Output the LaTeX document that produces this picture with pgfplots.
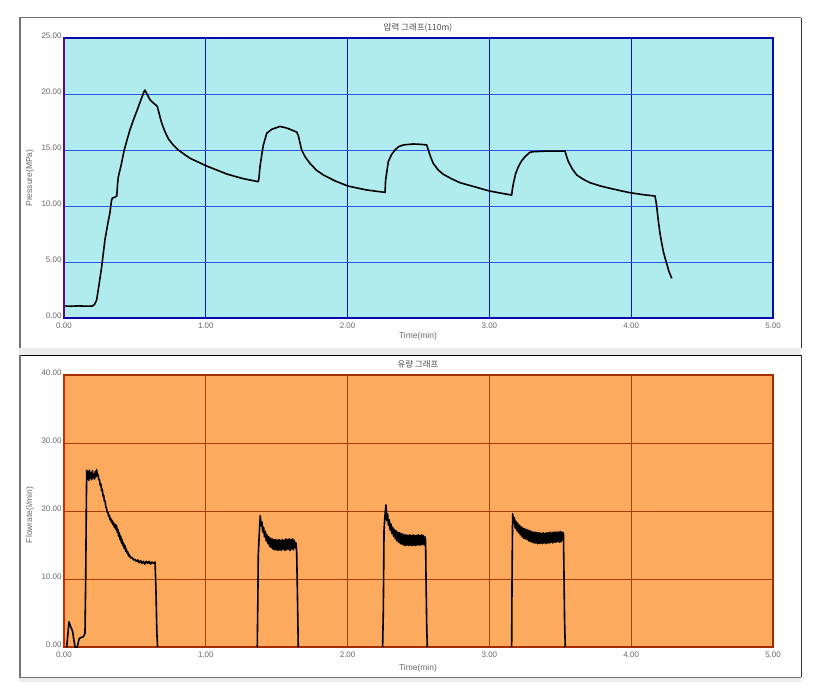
\documentclass[border=0pt]{standalone}
\usepackage{fontspec}
\setmainfont{Liberation Sans}
\newfontfamily\kr{Noto Sans CJK KR}
\usepackage{pgfplots}
\pgfplotsset{compat=1.18}

\definecolor{pbg}{RGB}{176,236,238}
\definecolor{pgridv}{RGB}{0,20,230}
\definecolor{pgridh}{RGB}{40,85,225}
\definecolor{pframe}{RGB}{10,10,170}
\definecolor{pleft}{RGB}{110,0,130}
\definecolor{fbg}{RGB}{252,171,94}
\definecolor{fgrid}{RGB}{170,60,10}
\definecolor{fframe}{RGB}{165,45,0}
\definecolor{fleft}{RGB}{205,40,0}
\definecolor{labgray}{RGB}{105,105,105}
\definecolor{panelgray}{RGB}{236,236,236}

\pgfplotsset{
  panel/.style={
    scale only axis, width=709bp,
    xmin=0, xmax=5, ymin=0,
    xtick={0,1,2,3,4,5},
    /pgf/number format/.cd, fixed, fixed zerofill, precision=2, assume math mode=true,
    /pgfplots/.cd,
    tick style={draw=none},
    ticklabel style={font=\fontsize{8}{9}\selectfont, text=labgray},
    yticklabel style={xshift=1bp, yshift=2bp},
    xticklabel style={yshift=-1bp},
    xmajorgrids, ymajorgrids,
    clip=false,
  },
  curve/.style={black, line width=1.6bp, line join=round},
}

\begin{document}
\begin{tikzpicture}
\begin{scope}[x=1bp,y=-1bp]
  \fill[white] (0,0) rectangle (828,692);
  % panel frames
  \fill[panelgray] (19,348) rectangle (801,355);
  \fill[panelgray] (19,677) rectangle (801,682);
  \draw[black!55, line width=1bp] (19,18) -- (801,18);
  \draw[black!55, line width=2.5bp] (20,18) -- (20,348);
  \draw[black!80, line width=0.8bp] (801,18) -- (801,348);
  \draw[black, line width=0.8bp] (19,355) -- (801,355);
  \draw[black!55, line width=2.5bp] (20,355) -- (20,677);
  \draw[black!80, line width=0.8bp] (801,355) -- (801,677);
  \draw[black!55, line width=0.8bp] (19,677) -- (801,677);
  % titles and labels
  \node[text=black!70, font=\kr\fontsize{8.5}{10}\selectfont] at (418,28) {압력 그래프(110m)};
  \node[text=black!70, font=\kr\fontsize{8.5}{10}\selectfont] at (418,364) {유량 그래프};
  \node[text=labgray, font=\fontsize{8.5}{10}\selectfont] at (418,336) {Time(min)};
  \node[text=labgray, font=\fontsize{8.5}{10}\selectfont] at (418,668) {Time(min)};
  \node[text=labgray, font=\fontsize{8.5}{10}\selectfont, rotate=90] at (30,178) {Pressure(MPa)};
  \node[text=labgray, font=\fontsize{8.5}{10}\selectfont, rotate=90] at (30,515) {Flowrate(l/min)};
\end{scope}

% pressure
\begin{axis}[panel,
  at={(64bp,-318bp)}, anchor=south west, height=280bp,
  ymax=25, ytick={0,5,10,15,20,25},
  axis background/.style={fill=pbg},
  x grid style={draw=pgridv, line width=1bp},
  y grid style={draw=pgridh, line width=0.9bp},
  axis line style={pframe, line width=1.6bp},
]
\addplot[curve] coordinates {
(0.01,1.07) (0.05,1.05) (0.10,1.08) (0.15,1.06) (0.20,1.07) (0.215,1.2) (0.23,1.6) (0.245,2.8)
(0.266,4.6) (0.289,7.0) (0.31,8.5) (0.324,9.4) (0.335,10.5) (0.341,10.7) (0.36,10.8) (0.372,10.9)
(0.378,12.0) (0.383,12.6) (0.402,13.6) (0.423,14.9) (0.44,15.7) (0.465,16.8) (0.49,17.7)
(0.517,18.6) (0.54,19.4) (0.564,20.2) (0.571,20.35) (0.585,20.0) (0.606,19.5) (0.63,19.2)
(0.658,18.9) (0.672,18.2) (0.689,17.4) (0.71,16.7) (0.736,16.0) (0.77,15.45) (0.806,15.0)
(0.85,14.6) (0.889,14.26) (0.95,13.9) (1.006,13.57) (1.08,13.2) (1.147,12.86) (1.21,12.63)
(1.265,12.44) (1.32,12.3) (1.37,12.17) (1.375,12.5) (1.382,13.5) (1.395,14.6) (1.406,15.45)
(1.43,16.5) (1.465,16.85) (1.523,17.1) (1.56,17.0) (1.594,16.85) (1.641,16.6) (1.652,16.3)
(1.676,15.0) (1.70,14.4) (1.735,13.8) (1.78,13.2) (1.829,12.77) (1.91,12.25) (2.0,11.79)
(2.07,11.6) (2.135,11.43) (2.2,11.32) (2.264,11.22) (2.268,12.3) (2.287,13.96) (2.31,14.6)
(2.334,15.0) (2.36,15.3) (2.393,15.45) (2.463,15.54) (2.52,15.5) (2.558,15.45) (2.569,15.0)
(2.585,14.4) (2.604,13.8) (2.64,13.2) (2.675,12.83) (2.73,12.45) (2.793,12.08) (2.9,11.7)
(3.0,11.34) (3.08,11.15) (3.157,10.98) (3.162,11.5) (3.169,12.0) (3.185,12.9) (3.204,13.5)
(3.225,14.0) (3.251,14.4) (3.286,14.8) (3.31,14.85) (3.4,14.9) (3.498,14.9) (3.533,14.91)
(3.545,14.4) (3.557,13.96) (3.585,13.3) (3.616,12.77) (3.66,12.4) (3.709,12.08) (3.78,11.8)
(3.85,11.58) (3.92,11.38) (3.99,11.19) (4.08,11.02) (4.168,10.89) (4.175,10.4) (4.18,9.94)
(4.19,8.8) (4.203,7.56) (4.215,6.7) (4.227,5.92) (4.24,5.3) (4.25,4.88) (4.265,4.2) (4.286,3.54)
};
\draw[pleft, line width=2bp] (axis cs:0,0) -- (axis cs:0,25);
\end{axis}

% flow rate
\begin{axis}[panel,
  at={(64bp,-647bp)}, anchor=south west, height=272bp,
  ymax=40, ytick={0,10,20,30,40},
  axis background/.style={fill=fbg},
  x grid style={draw=fgrid, line width=0.9bp},
  y grid style={draw=fgrid, line width=0.9bp},
  axis line style={fframe, line width=1.8bp},
]
\addplot[curve] coordinates {
(0.019,0) (0.03,2.5) (0.035,3.7) (0.04,3.4) (0.047,3.0) (0.055,2.6) (0.061,2.25) (0.07,1.0)
(0.078,0) (0.094,0) (0.1,0.6) (0.108,1.27) (0.12,1.4) (0.136,1.5) (0.148,2.0) (0.153,9.85)
(0.158,22) (0.16,26.0) (0.165,24.6) (0.17,25.8) (0.175,24.5) (0.18,26.0) (0.185,24.8) (0.19,25.6)
(0.195,24.6) (0.2,25.9) (0.205,24.9) (0.21,25.4) (0.215,24.7) (0.22,25.8) (0.225,25.0) (0.23,26.1)
(0.235,25.2) (0.24,25.4) (0.245,24.6) (0.25,24.6) (0.255,23.8) (0.26,24.0) (0.265,23.0) (0.27,23.2)
(0.275,22.2) (0.28,22.3) (0.285,21.4) (0.29,21.5) (0.295,20.6) (0.30,20.4) (0.305,19.8) (0.31,19.8)
(0.315,19.2) (0.32,19.4) (0.325,18.7) (0.33,18.9) (0.335,18.3) (0.34,18.6) (0.345,18.0) (0.35,18.3)
(0.355,17.6) (0.36,18.0) (0.365,17.3) (0.37,17.9) (0.375,16.9) (0.38,17.3) (0.385,16.3) (0.39,16.8)
(0.395,15.8) (0.40,16.3) (0.405,15.3) (0.41,15.8) (0.415,14.9) (0.42,15.3) (0.425,14.5) (0.43,14.9)
(0.435,14.1) (0.44,14.4) (0.445,13.8) (0.45,14.0) (0.455,13.4) (0.46,13.6) (0.47,13.1) (0.48,13.2)
(0.49,12.8) (0.50,12.9) (0.51,12.6) (0.52,12.8) (0.53,12.4) (0.54,12.7) (0.55,12.3) (0.56,12.6)
(0.57,12.2) (0.58,12.6) (0.59,12.3) (0.60,12.6) (0.61,12.2) (0.62,12.5) (0.63,12.3) (0.642,12.5)
(0.646,10.0) (0.649,7.9) (0.655,2.0) (0.66,0)
};
\addplot[curve] coordinates {
(1.363,0)
(1.367,7) (1.37,13.5) (1.378,17.0) (1.384,19.3) (1.39,17.8) (1.396,18.4) (1.402,16.9) (1.408,17.6)
(1.414,16.2) (1.42,17.0) (1.426,15.6) (1.432,16.5) (1.438,15.2) (1.444,16.2) (1.45,14.8) (1.456,16.0)
(1.462,14.6) (1.468,15.9) (1.474,14.4) (1.48,15.8) (1.486,14.3) (1.492,15.8) (1.498,14.3) (1.504,15.7)
(1.51,14.2) (1.516,15.8) (1.522,14.3) (1.528,15.7) (1.534,14.2) (1.54,15.8) (1.546,14.4) (1.552,15.7)
(1.558,14.2) (1.564,15.9) (1.57,14.3) (1.576,15.8) (1.582,14.4) (1.588,15.9) (1.594,14.2) (1.60,15.8)
(1.606,14.4) (1.612,15.9) (1.618,14.3) (1.624,15.7) (1.63,14.6) (1.636,15.3) (1.641,13.8) (1.646,8)
(1.652,0)
};
\addplot[curve] coordinates {
(2.247,0)
(2.252,5.4) (2.257,17.2) (2.264,19.5) (2.271,20.9) (2.276,18.6) (2.282,19.6) (2.288,17.9) (2.294,18.7)
(2.30,17.2) (2.306,18.1) (2.312,16.7) (2.318,17.6) (2.324,16.3) (2.33,17.3) (2.336,15.9) (2.342,17.1)
(2.348,15.6) (2.354,16.9) (2.36,15.4) (2.366,16.8) (2.372,15.2) (2.378,16.7) (2.384,15.1) (2.39,16.6)
(2.396,15.0) (2.402,16.5) (2.408,14.9) (2.414,16.5) (2.42,15.0) (2.426,16.4) (2.432,14.9) (2.438,16.5)
(2.444,15.0) (2.45,16.4) (2.456,14.9) (2.462,16.5) (2.468,15.0) (2.474,16.4) (2.48,14.9) (2.486,16.4)
(2.492,15.0) (2.498,16.5) (2.504,15.0) (2.51,16.4) (2.516,15.0) (2.522,16.5) (2.528,15.1) (2.534,16.4)
(2.54,15.0) (2.546,16.2) (2.55,15.6) (2.553,10.1) (2.558,3) (2.562,0)
};
\addplot[curve] coordinates {
(3.157,0)
(3.16,11.3) (3.164,19.6) (3.17,18.2) (3.176,19.0) (3.182,17.5) (3.188,18.5) (3.194,17.1) (3.20,18.2)
(3.206,16.8) (3.212,17.9) (3.218,16.5) (3.224,17.7) (3.23,16.2) (3.236,17.5) (3.242,16.0) (3.248,17.4)
(3.254,15.9) (3.26,17.3) (3.266,15.8) (3.272,17.2) (3.278,15.6) (3.284,17.1) (3.29,15.5) (3.296,17.0)
(3.302,15.4) (3.308,16.9) (3.314,15.3) (3.32,16.9) (3.326,15.3) (3.332,16.8) (3.338,15.2) (3.344,16.8)
(3.35,15.2) (3.356,16.8) (3.362,15.3) (3.368,16.7) (3.374,15.2) (3.38,16.8) (3.386,15.3) (3.392,16.7)
(3.398,15.2) (3.404,16.8) (3.41,15.3) (3.416,16.8) (3.422,15.3) (3.428,16.9) (3.434,15.4) (3.44,16.8)
(3.446,15.3) (3.452,16.9) (3.458,15.4) (3.464,16.9) (3.47,15.4) (3.476,16.9) (3.482,15.5) (3.488,16.9)
(3.494,15.4) (3.50,17.0) (3.506,15.5) (3.512,16.9) (3.518,15.8) (3.522,16.8) (3.526,10.6) (3.53,4)
(3.535,0)
};
\draw[fleft, line width=2bp] (axis cs:0,0) -- (axis cs:0,40);
\end{axis}
\end{tikzpicture}
\end{document}
